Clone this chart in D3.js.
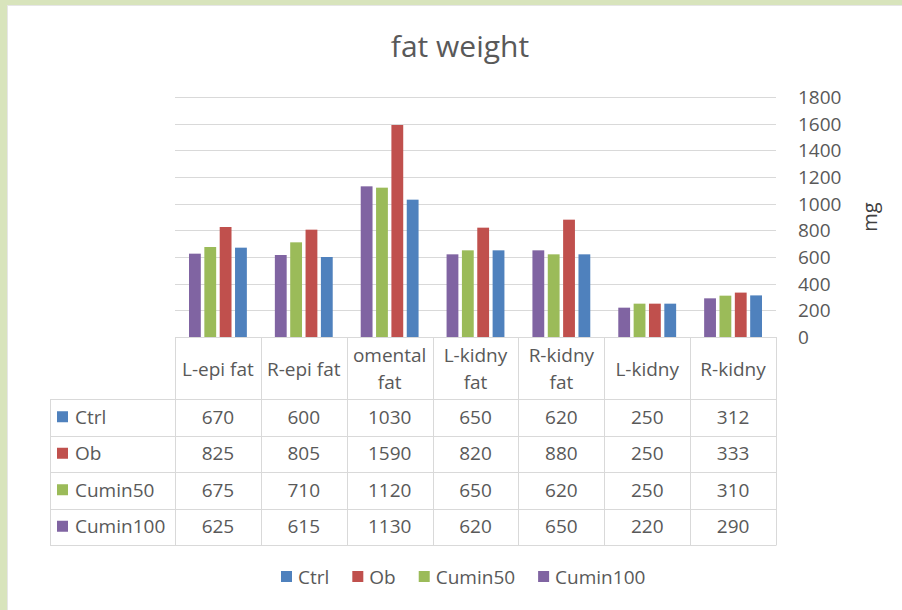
<!DOCTYPE html>
<html><head><meta charset="utf-8">
<script src="https://cdn.jsdelivr.net/npm/d3@7"></script>
<style>
html,body{margin:0;padding:0;background:#fff;}
svg{display:block;font-family:"Open Sans",sans-serif;}
</style></head>
<body>
<svg id="c" width="902" height="610"></svg>
<script>
const categories = ["L-epi fat","R-epi fat","omental fat","L-kidny fat","R-kidny fat","L-kidny","R-kidny"];
const categoryLines = [["L-epi fat"],["R-epi fat"],["omental","fat"],["L-kidny","fat"],["R-kidny","fat"],["L-kidny"],["R-kidny"]];
const seriesNames = ["Ctrl","Ob","Cumin50","Cumin100"];
const ctrl     = [670, 600, 1030, 650, 620, 250, 312];
const ob       = [825, 805, 1590, 820, 880, 250, 333];
const cumin50  = [675, 710, 1120, 650, 620, 250, 310];
const cumin100 = [625, 615, 1130, 620, 650, 220, 290];
const yTicks = [0,200,400,600,800,1000,1200,1400,1600,1800];
const colors = {"Ctrl":"#4F81BD","Ob":"#C0504D","Cumin50":"#9BBB59","Cumin100":"#8064A2"};
const values = {"Ctrl":ctrl,"Ob":ob,"Cumin50":cumin50,"Cumin100":cumin100};
const barOrder = ["Cumin100","Cumin50","Ob","Ctrl"];

const svg = d3.select("#c");
const txt = "#595959", grid = "#d9d9d9", fs = 19;

// frame
svg.append("rect").attr("x",0).attr("y",0).attr("width",902).attr("height",610).attr("fill","#d8e4bc");
svg.append("rect").attr("x",7).attr("y",5).attr("width",895).attr("height",605).attr("fill","#fff");
svg.append("line").attr("x1",7).attr("x2",902).attr("y1",5.5).attr("y2",5.5).attr("stroke","#e6e6e6");
svg.append("line").attr("x1",7.5).attr("x2",7.5).attr("y1",5).attr("y2",610).attr("stroke","#e6e6e6");

const x0 = d3.scaleBand().domain(categories).range([175,776]);
const bw = x0.bandwidth();
const x1 = d3.scaleBand().domain(barOrder).range([14,bw-14]).paddingInner(0.23);
const y = d3.scaleLinear().domain([0,1800]).range([337,97]);

// gridlines
svg.append("g").selectAll("line").data(yTicks).join("line")
  .attr("x1",175).attr("x2",776).attr("y1",d=>Math.round(y(d))+0.5).attr("y2",d=>Math.round(y(d))+0.5)
  .attr("stroke",grid).attr("stroke-width",1);

// y axis on right
const yAxis = d3.axisRight(y).tickValues(yTicks).tickFormat(d3.format("d")).tickSize(0).tickPadding(0);
const ga = svg.append("g").attr("transform","translate(798,0)").call(yAxis);
ga.select(".domain").remove();
ga.selectAll("text").attr("fill",txt).attr("font-size",fs).attr("font-family","'Open Sans',sans-serif").attr("text-anchor","start").attr("dy","0.35em");

// axis title
svg.append("text").attr("transform","translate(877,217) rotate(-90)").attr("text-anchor","middle")
  .attr("fill","#404040").attr("font-size",20).text("mg");

// title
svg.append("text").attr("x",460).attr("y",57).attr("text-anchor","middle").attr("fill",txt)
  .attr("font-size",30).text("fat weight");

// bars
const gb = svg.append("g");
categories.forEach((c,i)=>{
  barOrder.forEach(s=>{
    const v = values[s][i];
    gb.append("rect").attr("x",x0(c)+x1(s)).attr("width",x1.bandwidth())
      .attr("y",y(v)).attr("height",y(0)-y(v)).attr("fill",colors[s]);
  });
});

// data table
const rowTop = 399, rowH = 36.5, tableBottom = rowTop + rowH*seriesNames.length;
const gt = svg.append("g");
[0,1,2,3,4].forEach(k=>{
  const yy = Math.round(rowTop + k*rowH)+0.5;
  gt.append("line").attr("x1",50).attr("x2",776).attr("y1",yy).attr("y2",yy).attr("stroke",grid);
});
gt.append("line").attr("x1",175).attr("x2",776).attr("y1",337.5).attr("y2",337.5).attr("stroke",grid);
categories.concat(["end"]).forEach((c,i)=>{
  const xx = Math.round(175 + i*bw)+0.5;
  gt.append("line").attr("x1",xx).attr("x2",xx).attr("y1",337).attr("y2",Math.round(tableBottom)+0.5).attr("stroke",grid);
});
gt.append("line").attr("x1",50.5).attr("x2",50.5).attr("y1",rowTop).attr("y2",Math.round(tableBottom)+0.5).attr("stroke",grid);

// header labels
categories.forEach((c,i)=>{
  const lines = categoryLines[i];
  const cx = x0(c)+bw/2;
  const t = gt.append("text").attr("text-anchor","middle").attr("fill",txt).attr("font-size",fs);
  if(lines.length===1){
    t.append("tspan").attr("x",cx).attr("y",376).text(lines[0]);
  } else {
    t.append("tspan").attr("x",cx).attr("y",362).text(lines[0]);
    t.append("tspan").attr("x",cx).attr("y",389).text(lines[1]);
  }
});
// rows
seriesNames.forEach((s,k)=>{
  const cy = rowTop + k*rowH + rowH/2;
  gt.append("rect").attr("x",57).attr("y",cy-6).attr("width",11).attr("height",11).attr("fill",colors[s]);
  gt.append("text").attr("x",75).attr("y",cy).attr("dy","0.35em").attr("fill",txt).attr("font-size",fs).text(s);
  categories.forEach((c,i)=>{
    gt.append("text").attr("x",x0(c)+bw/2).attr("y",cy).attr("dy","0.35em").attr("text-anchor","middle")
      .attr("fill",txt).attr("font-size",fs).text(values[s][i]);
  });
});

// legend
const gl = svg.append("g");
let lx = 281;
seriesNames.forEach(s=>{
  gl.append("rect").attr("x",lx).attr("y",571).attr("width",11).attr("height",11).attr("fill",colors[s]);
  const t = gl.append("text").attr("x",lx+17).attr("y",577).attr("dy","0.35em").attr("fill",txt).attr("font-size",fs).text(s);
  lx += 17 + t.node().getComputedTextLength() + 23;
});
</script>
</body></html>
